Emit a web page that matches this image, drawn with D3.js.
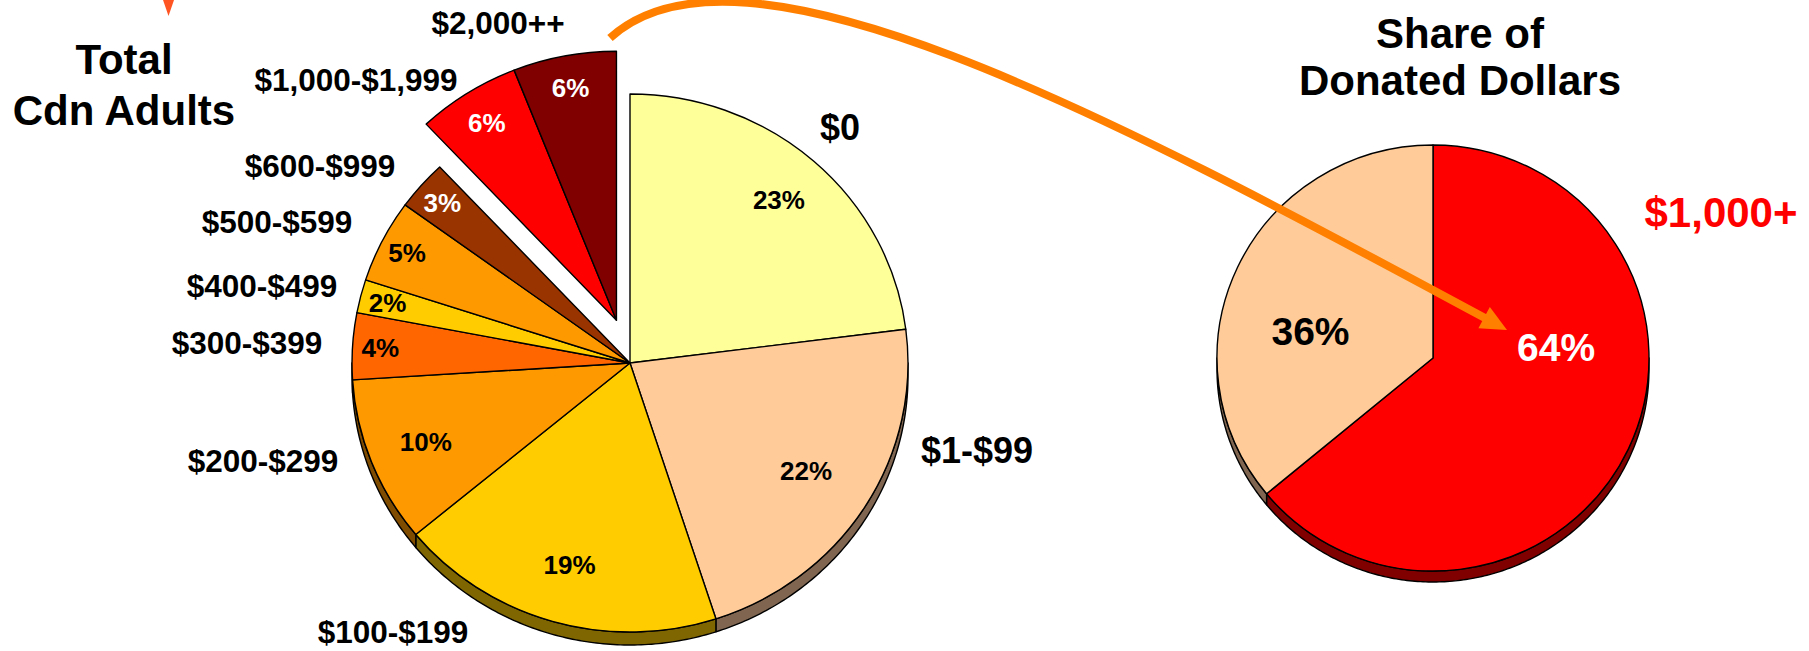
<!DOCTYPE html>
<html><head><meta charset="utf-8">
<script src="https://cdn.jsdelivr.net/npm/d3@7"></script>
<style>
body{margin:0;background:#fff}
svg{display:block}
text{font-family:"Liberation Sans",Arial,Helvetica,sans-serif;font-weight:bold}
</style>
</head><body>
<svg id="c" width="1809" height="651"></svg>
<script>
// ---------------- data ----------------
const categories = ["$0","$1-$99","$100-$199","$200-$299","$300-$399","$400-$499","$500-$599","$600-$999","$1,000-$1,999","$2,000++"];
const adultShares = [23,22,19,10,4,2,5,3,6,6];
const explodedCategories = ["$1,000-$1,999","$2,000++"];
const dollarGroups = ["$1,000+","Under $1,000"];
const dollarShares = [64,36];
const leftTitle = ["Total","Cdn Adults"];
const rightTitle = ["Share of","Donated Dollars"];

// ---------------- styles / layout ----------------
const sliceColors = ["#FFFF99","#FFCC99","#FFCC00","#FF9900","#FF6600","#FFCC00","#FF9900","#993300","#FF0000","#800000"];
const sideColors  = ["#808050","#806650","#806600","#804C00","#803300","#806600","#804C00","#4C1A00","#800000","#400000"];
const pctColors   = ["#000","#000","#000","#000","#000","#000","#000","#fff","#fff","#fff"];
const pctRadius   = [0.81,0.75,0.78,0.79,0.9,0.9,0.9,0.9,0.87,0.88];
const catLabelPos = [[840,140],[977,463],[393,643],[263,472],[247,354],[262,297],[277,233],[320,177],[356,91],[498,34]];
const catLabelSize= [36,36,31.5,31.5,31.5,31.5,31.5,31.5,31.5,31.5];
const dollarColors = ["#FF0000","#FFCC99"];
const dollarSides  = ["#800000","#806650"];
const dollarPctColors = ["#fff","#000"];
const dollarPctOffset = [[0.57,-0.054],[-0.567,-0.129]];

const svg = d3.select("#c");

function drawPie(cfg){
  const {cx,cy,rx,ry,depth,values,colors,sides,explodeIdx,explodeDist} = cfg;
  const pie = d3.pie().sort(null).value(d=>d)(values);
  const arc = d3.arc().innerRadius(0).outerRadius(ry);
  const g = svg.append("g");
  let off=[0,0];
  if(explodeIdx.length){
    const a0=d3.min(explodeIdx,i=>pie[i].startAngle), a1=d3.max(explodeIdx,i=>pie[i].endAngle);
    const m=(a0+a1)/2;
    off=[explodeDist*Math.sin(m)*0.8, -explodeDist*Math.cos(m)];
  }
  const pos = i => explodeIdx.includes(i)?off:[0,0];
  pie.forEach((p,i)=>{
    const s=Math.max(p.startAngle,Math.PI/2), e=Math.min(p.endAngle,3*Math.PI/2);
    if(s>=e) return;
    const n=Math.max(2,Math.ceil((e-s)*80));
    const top=d3.range(n+1).map(j=>{const t=s+(e-s)*j/n;return [cx+pos(i)[0]+rx*Math.sin(t), cy+pos(i)[1]-ry*Math.cos(t)];});
    const bot=top.slice().reverse().map(([x,y])=>[x,y+depth]);
    g.append("path").attr("d",d3.line()(top.concat(bot))+"Z")
      .attr("fill",sides[i]).attr("stroke","#000").attr("stroke-width",1.4).attr("stroke-linejoin","round");
  });
  pie.forEach((p,i)=>{
    g.append("path").attr("d",arc(p))
      .attr("transform",`translate(${cx+pos(i)[0]},${cy+pos(i)[1]}) scale(${rx/ry},1)`)
      .attr("fill",colors[i]).attr("stroke","#000").attr("stroke-width",1.4)
      .attr("vector-effect","non-scaling-stroke").attr("stroke-linejoin","round");
  });
  return {pie,pos};
}

// ---------------- left pie ----------------
const L = {cx:630, cy:363, rx:278, ry:269, depth:13};
const explIdx = explodedCategories.map(c=>categories.indexOf(c));
const left = drawPie({...L, values:adultShares, colors:sliceColors, sides:sideColors, explodeIdx:explIdx, explodeDist:46});

left.pie.forEach((p,i)=>{
  const m=(p.startAngle+p.endAngle)/2, k=pctRadius[i], o=left.pos(i);
  svg.append("text")
    .attr("x", L.cx+o[0]+k*L.rx*Math.sin(m))
    .attr("y", L.cy+o[1]-k*L.ry*Math.cos(m))
    .attr("dy","0.36em").attr("text-anchor","middle")
    .attr("font-size",26).attr("fill",pctColors[i])
    .text(adultShares[i]+"%");
});
categories.forEach((c,i)=>{
  svg.append("text").attr("x",catLabelPos[i][0]).attr("y",catLabelPos[i][1])
    .attr("text-anchor","middle").attr("font-size",catLabelSize[i]).attr("fill","#000").text(c);
});
leftTitle.forEach((t,i)=>{
  svg.append("text").attr("x",124).attr("y",74+i*51).attr("text-anchor","middle")
    .attr("font-size",42).attr("fill","#000").text(t);
});
// small arrow tip at top-left
svg.append("path").attr("d","M163,0L174,0L168.5,16Z").attr("fill","#FF5522");

// ---------------- right pie ----------------
const R = {cx:1433, cy:358, rx:216, ry:213, depth:11};
const right = drawPie({...R, values:dollarShares, colors:dollarColors, sides:dollarSides, explodeIdx:[], explodeDist:0});

// connector curve with arrow
const tip=[1507,330];
const P0=[610,38], P1=[740,-80], P2=[1100,110];
const dir=[tip[0]-P2[0], tip[1]-P2[1]]; const dl=Math.hypot(dir[0],dir[1]); const u=[dir[0]/dl,dir[1]/dl];
const alen=26, aw=12;
const base=[tip[0]-alen*u[0], tip[1]-alen*u[1]];
const cp=d3.path(); cp.moveTo(...P0); cp.bezierCurveTo(...P1,...P2,base[0]+2*u[0],base[1]+2*u[1]);
svg.append("path").attr("d",cp.toString()).attr("fill","none").attr("stroke","#FF8000").attr("stroke-width",8);
const nrm=[-u[1],u[0]];
svg.append("path").attr("d",d3.line()([tip,[base[0]+aw*nrm[0],base[1]+aw*nrm[1]],[base[0]-aw*nrm[0],base[1]-aw*nrm[1]]])+"Z").attr("fill","#FF8000");

right.pie.forEach((p,i)=>{
  svg.append("text")
    .attr("x", R.cx+dollarPctOffset[i][0]*R.rx)
    .attr("y", R.cy+dollarPctOffset[i][1]*R.ry)
    .attr("dy","0.36em").attr("text-anchor","middle")
    .attr("font-size",39).attr("fill",dollarPctColors[i])
    .text(dollarShares[i]+"%");
});
svg.append("text").attr("x",1721).attr("y",227).attr("text-anchor","middle")
  .attr("font-size",42).attr("fill","#FF0000").text(dollarGroups[0]);
rightTitle.forEach((t,i)=>{
  svg.append("text").attr("x",1460).attr("y",48+i*47).attr("text-anchor","middle")
    .attr("font-size",42).attr("fill","#000").text(t);
});
</script>
</body></html>
